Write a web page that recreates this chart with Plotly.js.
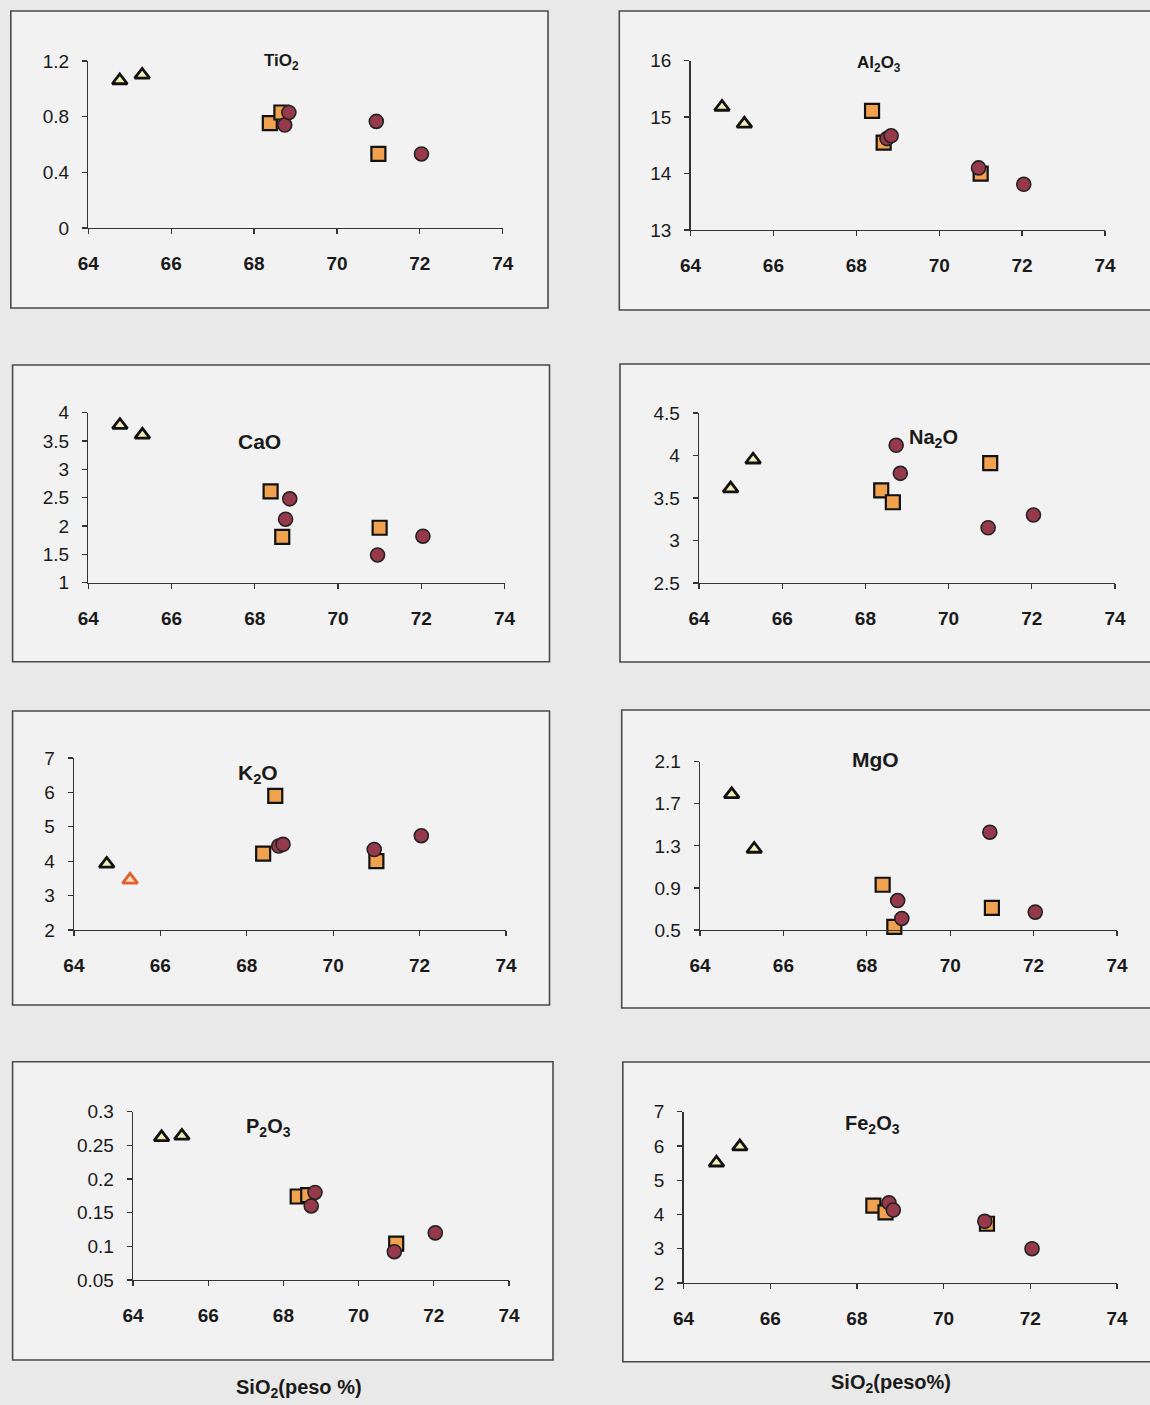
<!DOCTYPE html>
<html>
<head>
<meta charset="utf-8">
<script src="https://cdn.plot.ly/plotly-3.0.1.min.js"></script>
<style>
  html, body { margin: 0; padding: 0; background: #e9e9e9; }
  #chart { width: 1150px; height: 1405px; }
</style>
</head>
<body>
<div id="chart"></div>
<script>
// ---------------- DATA ----------------
// SiO2 (peso %) of the three sample groups
const siTri = [64.76, 65.30];
const siSq  = [68.38, 68.66, 71.00];
const siCi  = [68.74, 68.84, 70.95, 72.04];

const xTicks = [64, 66, 68, 70, 72, 74];

const tio2Tri = [1.06, 1.10];
const tio2Sq  = [0.754, 0.83, 0.532];
const tio2Ci  = [0.74, 0.83, 0.766, 0.532];
const tio2Ticks = [0, 0.4, 0.8, 1.2];

const al2o3Tri = [15.18, 14.88];
const al2o3Sq  = [15.11, 14.55, 14.00];
const al2o3Ci  = [14.62, 14.67, 14.10, 13.81];
const al2o3Ticks = [13, 14, 15, 16];

const caoTri = [3.78, 3.61];
const caoSq  = [2.61, 1.81, 1.97];
const caoCi  = [2.12, 2.48, 1.49, 1.82];
const caoTicks = [1, 1.5, 2, 2.5, 3, 3.5, 4];

const na2oTri = [3.61, 3.95];
const na2oSq  = [3.59, 3.45, 3.91];
const na2oCi  = [4.12, 3.79, 3.15, 3.30];
const na2oTicks = [2.5, 3, 3.5, 4, 4.5];

const k2oTri = [3.92, 3.46];
const k2oSq  = [4.22, 5.90, 4.00];
const k2oCi  = [4.44, 4.49, 4.34, 4.74];
const k2oTicks = [2, 3, 4, 5, 6, 7];

const mgoTri = [1.79, 1.27];
const mgoSq  = [0.93, 0.53, 0.71];
const mgoCi  = [0.78, 0.61, 1.43, 0.67];
const mgoTicks = [0.5, 0.9, 1.3, 1.7, 2.1];

const p2o3Tri = [0.262, 0.264];
const p2o3Sq  = [0.174, 0.176, 0.104];
const p2o3Ci  = [0.160, 0.180, 0.092, 0.120];
const p2o3Ticks = [0.05, 0.1, 0.15, 0.2, 0.25, 0.3];

const fe2o3Tri = [5.51, 5.98];
const fe2o3Sq  = [4.26, 4.06, 3.73];
const fe2o3Ci  = [4.34, 4.13, 3.80, 3.00];
const fe2o3Ticks = [2, 3, 4, 5, 6, 7];

const panelNames = ['TiO<sub>2</sub>', 'Al<sub>2</sub>O<sub>3</sub>', 'CaO', 'Na<sub>2</sub>O',
                    'K<sub>2</sub>O', 'MgO', 'P<sub>2</sub>O<sub>3</sub>', 'Fe<sub>2</sub>O<sub>3</sub>'];
const xTitleLeft  = 'SiO<sub>2</sub>(peso %)';
const xTitleRight = 'SiO<sub>2</sub>(peso%)';

// ---------------- LAYOUT (pixels) ----------------
const W = 1150, H = 1405;
const px = v => v / W;
const py = v => 1 - v / H;

const panels = [
  { tri: tio2Tri,  sq: tio2Sq,  ci: tio2Ci,  ticks: tio2Ticks,
    ax: [88.3, 502.7, 61, 228],   box: [10.8, 548, 11, 308],      lab: [281, 62, 17, 'center'] },
  { tri: al2o3Tri, sq: al2o3Sq, ci: al2o3Ci, ticks: al2o3Ticks,
    ax: [690.5, 1105, 60.7, 230], box: [619.3, 1160, 11, 310],    lab: [879, 64, 17, 'center'] },
  { tri: caoTri,   sq: caoSq,   ci: caoCi,   ticks: caoTicks,
    ax: [88.3, 504.5, 412.7, 582.7], box: [12.6, 549.5, 365, 661.7], lab: [259, 442, 21, 'center'] },
  { tri: na2oTri,  sq: na2oSq,  ci: na2oCi,  ticks: na2oTicks,
    ax: [699, 1115, 413, 583],    box: [620, 1160, 364, 662],     lab: [933, 439, 20, 'center'] },
  { tri: k2oTri,   sq: k2oSq,   ci: k2oCi,   ticks: k2oTicks,
    ax: [73.9, 506, 758, 930],    box: [12.6, 549.5, 711, 1005],  lab: [258, 774, 21, 'center'] },
  { tri: mgoTri,   sq: mgoSq,   ci: mgoCi,   ticks: mgoTicks,
    ax: [700, 1117, 761.7, 930],  box: [621.7, 1160, 710, 1008],  lab: [875, 759, 21, 'center'] },
  { tri: p2o3Tri,  sq: p2o3Sq,  ci: p2o3Ci,  ticks: p2o3Ticks,
    ax: [133, 509, 1111.7, 1280], box: [12.6, 553, 1061.7, 1360], lab: [268, 1127, 20, 'center'] },
  { tri: fe2o3Tri, sq: fe2o3Sq, ci: fe2o3Ci, ticks: fe2o3Ticks,
    ax: [683.5, 1117, 1111.7, 1283], box: [622.8, 1160, 1062, 1361.7], lab: [872, 1124, 20, 'center'] }
];

const FONT = '"Liberation Sans", Arial, sans-serif';
const triStyle = { symbol: 'triangle-up', size: 13, color: '#f2eeb6', line: { color: '#111', width: 2.8 } };
const sqStyle  = { symbol: 'square', size: 14, color: '#f1a24e', line: { color: '#111', width: 2.2 } };
const ciStyle  = { symbol: 'circle', size: 14, color: '#963a4b', line: { color: '#222', width: 1.6 } };

const traces = [];
const layout = {
  width: W, height: H,
  margin: { l: 0, r: 0, t: 0, b: 0 },
  paper_bgcolor: '#e9e9e9',
  plot_bgcolor: 'rgba(0,0,0,0)',
  showlegend: false,
  font: { family: FONT, color: '#1a1a1a' },
  shapes: [],
  annotations: []
};

panels.forEach((p, i) => {
  const n = i + 1;
  const xa = 'xaxis' + (n === 1 ? '' : n);
  const ya = 'yaxis' + (n === 1 ? '' : n);
  const xr = 'x' + (n === 1 ? '' : n);
  const yr = 'y' + (n === 1 ? '' : n);

  // frame box
  layout.shapes.push({
    type: 'rect', xref: 'paper', yref: 'paper', layer: 'below',
    x0: px(p.box[0]), x1: px(p.box[1]), y0: py(p.box[3]), y1: py(p.box[2]),
    line: { color: '#4a4a4a', width: 1.6 }, fillcolor: '#f2f2f2'
  });

  layout[xa] = {
    domain: [px(p.ax[0]), px(p.ax[1])],
    anchor: yr,
    range: [xTicks[0], xTicks[xTicks.length - 1]],
    tickvals: xTicks,
    ticktext: xTicks.map(String),
    showgrid: false, zeroline: false,
    showline: true, linecolor: '#333', linewidth: 1.3,
    ticks: 'outside', ticklen: 5, tickcolor: '#333', tickwidth: 1.3,
    ticklabelstandoff: 13,
    tickfont: { family: FONT, size: 19, weight: 'bold', color: '#1a1a1a' },
    fixedrange: true
  };
  layout[ya] = {
    domain: [py(p.ax[3]), py(p.ax[2])],
    anchor: xr,
    range: [p.ticks[0], p.ticks[p.ticks.length - 1]],
    tickvals: p.ticks,
    ticktext: p.ticks.map(String),
    showgrid: false, zeroline: false,
    showline: true, linecolor: '#333', linewidth: 1.3,
    ticks: 'outside', ticklen: 5, tickcolor: '#333', tickwidth: 1.3,
    ticklabelstandoff: 9,
    tickfont: { family: FONT, size: 19, color: '#1a1a1a' },
    fixedrange: true
  };

  const triMarker = JSON.parse(JSON.stringify(triStyle));
  if (i === 4) { // K2O: second triangle drawn with orange outline
    triMarker.line.color = ['#111', '#e0602e'];
    triMarker.color = ['#f2eeb6', '#f6dcb8'];
  }
  traces.push({ type: 'scatter', mode: 'markers', x: siTri, y: p.tri, xaxis: xr, yaxis: yr,
                marker: triMarker, cliponaxis: false, hoverinfo: 'x+y' });
  traces.push({ type: 'scatter', mode: 'markers', x: siSq, y: p.sq, xaxis: xr, yaxis: yr,
                marker: sqStyle, cliponaxis: false, hoverinfo: 'x+y' });
  traces.push({ type: 'scatter', mode: 'markers', x: siCi, y: p.ci, xaxis: xr, yaxis: yr,
                marker: ciStyle, cliponaxis: false, hoverinfo: 'x+y' });

  layout.annotations.push({
    xref: 'paper', yref: 'paper', x: px(p.lab[0]), y: py(p.lab[1]),
    xanchor: p.lab[3], yanchor: 'middle', showarrow: false,
    text: '<b>' + panelNames[i] + '</b>',
    font: { family: FONT, size: p.lab[2], color: '#1a1a1a' }
  });
});

layout.annotations.push({
  xref: 'paper', yref: 'paper', x: px(299), y: py(1388), xanchor: 'center', yanchor: 'middle',
  showarrow: false, text: '<b>' + xTitleLeft + '</b>', font: { family: FONT, size: 20, color: '#1a1a1a' }
});
layout.annotations.push({
  xref: 'paper', yref: 'paper', x: px(891), y: py(1383), xanchor: 'center', yanchor: 'middle',
  showarrow: false, text: '<b>' + xTitleRight + '</b>', font: { family: FONT, size: 20, color: '#1a1a1a' }
});

Plotly.newPlot('chart', traces, layout, { staticPlot: true, displayModeBar: false });
</script>
</body>
</html>
